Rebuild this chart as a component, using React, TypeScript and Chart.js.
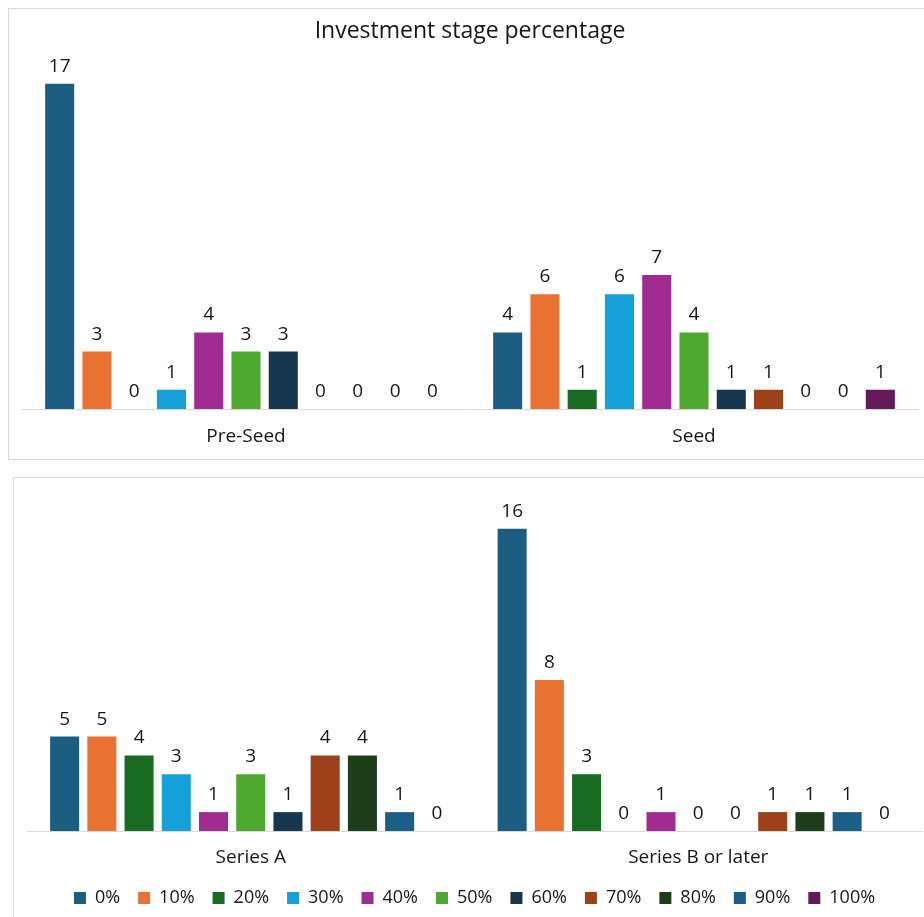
import React, { useEffect, useRef } from "react";
import { Chart, registerables } from "chart.js";

Chart.register(...registerables);

// Share of investment in each stage: number of respondents per percentage bucket
const percentLabels = ["0%", "10%", "20%", "30%", "40%", "50%", "60%", "70%", "80%", "90%", "100%"];
const topStages = ["Pre-Seed", "Seed"];
const bottomStages = ["Series A", "Series B or later"];

const preSeed = [17, 3, 0, 1, 4, 3, 3, 0, 0, 0, 0];
const seed = [4, 6, 1, 6, 7, 4, 1, 1, 0, 0, 1];
const seriesA = [5, 5, 4, 3, 1, 3, 1, 4, 4, 1, 0];
const seriesBLater = [16, 8, 3, 0, 1, 0, 0, 1, 1, 1, 0];

const colors = [
  "#1b5e82",
  "#e97132",
  "#196b24",
  "#14a0d8",
  "#a02b93",
  "#4ea72e",
  "#15364e",
  "#9c4119",
  "#1c3f19",
  "#1a5f86",
  "#641a5a",
];

const FONT = "'Open Sans', 'Liberation Sans', sans-serif";
const TEXT = "#161616";

// Draws each bar's value above it, zeros included
const valueLabels = {
  id: "valueLabels",
  afterDatasetsDraw(chart: any) {
    const ctx = chart.ctx;
    ctx.save();
    ctx.font = `19px ${FONT}`;
    ctx.fillStyle = TEXT;
    ctx.textAlign = "center";
    ctx.textBaseline = "alphabetic";
    chart.data.datasets.forEach((ds: any, di: number) => {
      const meta = chart.getDatasetMeta(di);
      meta.data.forEach((el: any, i: number) => {
        ctx.fillText(String(ds.data[i]), el.x, el.y - 12);
      });
    });
    ctx.restore();
  },
};

function buildConfig(
  stages: string[],
  a: number[],
  b: number[],
  opts: { title?: string; legend: boolean; yMax: number; padding: any; tickPad: number; axisHeight: number }
): any {
  return {
    type: "bar",
    data: {
      labels: stages,
      datasets: percentLabels.map((label, i) => ({
        label,
        data: [a[i], b[i]],
        backgroundColor: colors[i],
        borderWidth: 0,
        barPercentage: 0.78,
        categoryPercentage: 0.915,
      })),
    },
    options: {
      responsive: false,
      animation: false,
      layout: { padding: opts.padding },
      plugins: {
        tooltip: { enabled: false },
        title: opts.title
          ? {
              display: true,
              text: opts.title,
              color: TEXT,
              font: { family: FONT, size: 23, weight: "normal" },
              padding: { top: 9, bottom: 19 },
            }
          : { display: false },
        legend: opts.legend
          ? {
              display: true,
              position: "bottom",
              labels: {
                boxWidth: 12,
                boxHeight: 12,
                padding: 18,
                color: TEXT,
                font: { family: FONT, size: 18 },
              },
            }
          : { display: false },
      },
      scales: {
        x: {
          grid: { display: false, drawTicks: false },
          border: { display: true, color: "#d9d9d9", width: 1 },
          ticks: {
            color: TEXT,
            padding: opts.tickPad,
            font: { family: FONT, size: 19 },
          },
          afterFit: (scale: any) => {
            scale.height = opts.axisHeight;
          },
        },
        y: {
          display: false,
          min: 0,
          max: opts.yMax,
        },
      },
    },
    plugins: [valueLabels],
  };
}

function ChartCanvas({ config, width, height, style }: any) {
  const ref = useRef<HTMLCanvasElement | null>(null);
  useEffect(() => {
    if (!ref.current) return;
    const chart = new Chart(ref.current, config);
    return () => chart.destroy();
  }, [config]);
  return <canvas ref={ref} width={width} height={height} style={{ position: "absolute", ...style }} />;
}

const topConfig = buildConfig(topStages, preSeed, seed, {
  title: "Investment stage percentage",
  legend: false,
  yMax: 18,
  padding: { left: 13, right: 6, top: 0, bottom: 4 },
  tickPad: 16,
  axisHeight: 45,
});

const bottomConfig = buildConfig(bottomStages, seriesA, seriesBLater, {
  legend: true,
  yMax: 18,
  padding: { left: 13, right: 2, top: 13, bottom: 0 },
  tickPad: 15,
  axisHeight: 40,
});

export default function App() {
  return (
    <div
      style={{
        position: "fixed",
        inset: 0,
        overflow: "hidden",
        background: "#ffffff",
      }}
    >
      <div
        style={{
          position: "absolute",
          left: 8,
          top: 8,
          width: 940,
          height: 450,
          border: "1px solid #d9d9d9",
        }}
      />
      <div
        style={{
          position: "absolute",
          left: 13,
          top: 477,
          width: 940,
          height: 460,
          border: "1px solid #d9d9d9",
        }}
      />
      <ChartCanvas config={topConfig} width={915} height={449} style={{ left: 9, top: 9 }} />
      <ChartCanvas config={bottomConfig} width={910} height={439} style={{ left: 14, top: 478 }} />
    </div>
  );
}
